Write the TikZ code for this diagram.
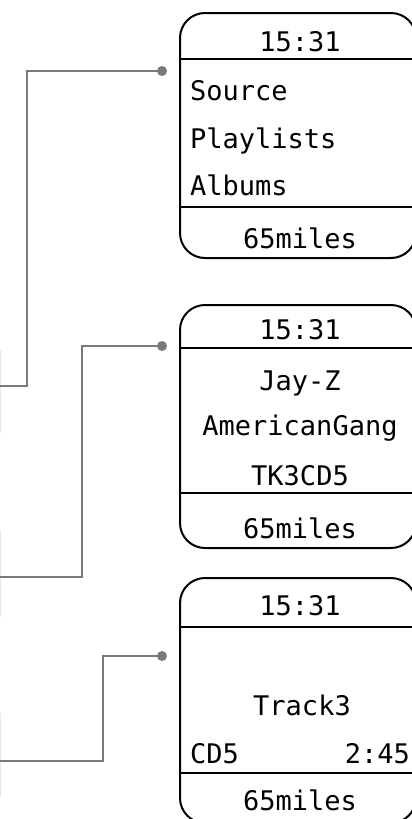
\documentclass[tikz,border=0pt]{standalone}
\usepackage{fontspec}
\newfontfamily\lcdfont{DejaVu Sans Mono}
\begin{document}
\begin{tikzpicture}[x=1pt,y=-1pt,
  screen/.style={draw=black,line width=2pt,rounded corners=25pt},
  divider/.style={draw=black,line width=2pt},
  conn/.style={draw=gray!95!black,line width=2pt},
  dotmark/.style={circle,fill=gray!95!black,inner sep=0pt,minimum size=10pt},
  faint/.style={draw=black!9,line width=1pt},
  lcd/.style={inner sep=0pt,font=\lcdfont\fontsize{27}{27}\selectfont}]
\useasboundingbox (0,0) rectangle (412,819);
\clip (0,0) rectangle (412,819);
% faint edges at the left
\draw[faint] (0.5,350) -- (0.5,433);
\draw[faint] (0.5,530) -- (0.5,617);
\draw[faint] (0.5,713) -- (0.5,797);
% screen 1
\draw[screen] (180,13) rectangle (416,258);
\draw[divider] (180,59) -- (420,59);
\draw[divider] (180,207) -- (420,207);
\node[lcd,anchor=base] (t1) at (300,51) {15:31};
\node[lcd,anchor=base west] (a1) at (190,100) {Source};
\node[lcd,anchor=base west] (a2) at (190,148) {Playlists};
\node[lcd,anchor=base west] (a3) at (190,195) {Albums};
\node[lcd,anchor=base] (m1) at (300,248) {65miles};
% screen 2
\draw[screen] (180,305) rectangle (416,548);
\draw[divider] (180,348) -- (420,348);
\draw[divider] (180,493) -- (420,493);
\node[lcd,anchor=base] (t2) at (300,339) {15:31};
\node[lcd,anchor=base] (b1) at (300,390) {Jay-Z};
\node[lcd,anchor=base] (b2) at (300,435) {AmericanGang};
\node[lcd,anchor=base] (b3) at (300,485) {TK3CD5};
\node[lcd,anchor=base] (m2) at (300,538) {65miles};
% screen 3
\draw[screen] (180,578) rectangle (416,823);
\draw[divider] (180,627) -- (420,627);
\draw[divider] (180,773) -- (420,773);
\node[lcd,anchor=base] (t3) at (300,615) {15:31};
\node[lcd,anchor=base] (c1) at (302,715) {Track3};
\node[lcd,anchor=base west] (c2) at (190,763) {CD5};
\node[lcd,anchor=base east] (c3) at (410,763) {2:45};
\node[lcd,anchor=base] (m3) at (300,810) {65miles};
% connectors
\coordinate (o1) at (0,386);
\coordinate (o2) at (0,577);
\coordinate (o3) at (0,761);
\node[dotmark] (d1) at (162,71) {};
\node[dotmark] (d2) at (162,346) {};
\node[dotmark] (d3) at (162,656) {};
\draw[conn] (o1) -- (27,386) |- (d1.center);
\draw[conn] (o2) -- (82,577) |- (d2.center);
\draw[conn] (o3) -- (103,761) |- (d3.center);
\end{tikzpicture}
\end{document}
